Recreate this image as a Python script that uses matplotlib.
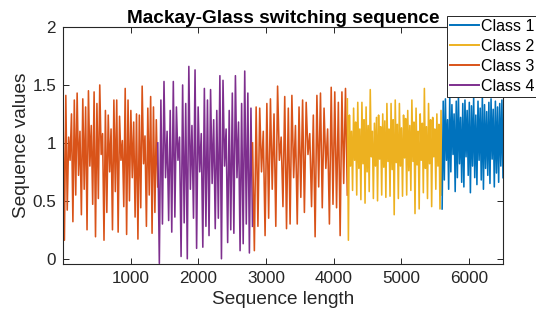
import matplotlib
matplotlib.use("Agg")
import matplotlib.pyplot as plt
import numpy as np

plt.rcParams['font.family'] = ['Liberation Sans', 'DejaVu Sans']

# segment boundaries (sample index) and class of each segment
seg_bounds = [(1, 1400), (1401, 2800), (2801, 4200), (4201, 5600), (5601, 6500)]
seg_class = [3, 4, 3, 2, 1]

# extremes, one list per segment
c3a = [1.28, 0.16, 1.41, 0.42, 1.05, 0.85, 1.25, 0.32, 1.37, 0.55, 1.43, 0.72, 1.10, 0.38,
       1.38, 0.60, 1.31, 0.25, 1.45, 0.80, 1.15, 0.47, 1.44, 0.19, 1.34, 0.52, 1.50, 0.90,
       1.08, 0.16, 1.28, 0.40, 1.24, 0.75, 1.12, 0.25, 1.37, 0.58, 1.37, 0.23, 1.23, 0.85,
       1.02, 0.45, 1.47, 0.21, 1.37, 0.50, 1.28, 0.70, 1.18, 0.36, 1.25, 0.17, 1.24, 0.44,
       1.49, 0.82, 1.06, 0.28, 1.30, 0.55, 1.40, 0.22, 1.31, 0.40, 1.20, 0.62]
c4 = [1.00, -0.04, 1.37, 0.30, 1.53, 0.70, 1.10, 0.33, 1.28, 0.23, 1.53, 0.36, 1.31, 0.85,
      1.05, 0.02, 1.50, 0.31, 1.34, 0.00, 1.66, 0.60, 1.15, 0.35, 1.63, 0.09, 1.31, 0.75,
      1.08, 0.10, 1.47, 0.28, 1.37, 0.20, 1.46, 0.65, 1.20, 0.26, 1.28, 0.35, 1.58, 0.00,
      1.54, 0.80, 1.12, 0.14, 1.28, 0.25, 1.43, 0.22, 1.58, 0.70, 1.18, 0.07, 1.34, 0.13,
      1.62, 0.30, 1.43, 0.05, 1.30, 0.28]
c3b = [1.00, 0.07, 1.31, 0.28, 1.30, 0.75, 1.10, 0.20, 1.34, 0.35, 1.38, 0.60, 1.25, 0.28,
       1.49, 0.85, 1.05, 0.45, 1.40, 0.26, 1.30, 0.30, 1.41, 0.70, 1.15, 0.30, 1.31, 0.53,
       1.37, 0.40, 1.35, 0.90, 1.08, 0.45, 1.24, 0.19, 1.41, 0.62, 1.43, 0.44, 1.30, 0.78,
       1.12, 0.30, 1.48, 0.47, 1.44, 0.44, 1.35, 0.20, 1.44, 0.65, 1.47, 0.55]
c2 = [1.38, 0.16, 1.24, 0.80, 1.10, 0.59, 1.30, 0.85, 1.18, 0.55, 1.35, 0.78, 1.12, 0.51,
      1.35, 0.82, 1.20, 0.48, 1.31, 0.75, 1.15, 0.58, 1.46, 0.88, 1.10, 0.52, 1.17, 0.80,
      1.22, 0.50, 1.24, 0.86, 1.14, 0.55, 1.25, 0.79, 1.19, 0.53, 1.34, 0.84, 1.12, 0.54,
      1.34, 0.77, 1.20, 0.38, 1.37, 0.83, 1.16, 0.52, 1.34, 0.80, 1.13, 0.54, 1.24, 0.87,
      1.21, 0.55, 1.28, 0.76, 1.15, 0.59, 1.37, 0.84, 1.18, 0.39, 1.30, 0.81, 1.10, 0.43,
      1.25, 0.85, 1.17, 0.57, 1.47, 0.78, 1.14, 0.52, 1.34, 0.82, 1.20, 0.45, 1.22, 0.88,
      1.12, 0.60, 1.25, 0.80, 1.16, 0.43, 1.28, 0.55]
c1 = [0.43, 1.36, 0.68, 1.38, 0.85, 1.20, 0.60, 1.40, 0.75, 1.33, 0.90, 1.25, 0.58, 1.36,
      0.70, 1.41, 0.82, 1.22, 0.66, 1.34, 0.62, 1.37, 0.88, 1.28, 0.72, 1.35, 0.57, 1.32,
      0.80, 1.39, 0.70, 1.24, 0.64, 1.36, 0.85, 1.30, 0.68, 1.40, 0.60, 1.33, 0.78, 1.27,
      0.72, 1.35, 0.65, 1.38, 0.86, 1.29, 0.62, 1.36, 0.74, 1.31, 0.66, 1.34, 0.80, 1.37, 0.70]
seg_values = [c3a, c4, c3b, c2, c1]

class_colors = {1: '#0072BD', 2: '#EDB120', 3: '#D95319', 4: '#7E2F8E'}
ytick_vals = [0, 0.5, 1, 1.5, 2]
ytick_labels = ['0', '0.5', '1', '1.5', '2']
xtick_vals = [1000, 2000, 3000, 4000, 5000, 6000]

fig = plt.figure(figsize=(5.36, 3.17), dpi=100)
ax = fig.add_axes([63 / 536, 1 - 264 / 317, (503 - 63) / 536, (264 - 27) / 317])

handles = {}
for (x0, x1), cls, vals in zip(seg_bounds, seg_class, seg_values):
    xs = np.linspace(x0, x1, len(vals))
    ln, = ax.plot(xs, vals, color=class_colors[cls], lw=1.15)
    handles.setdefault(cls, ln)

ax.set_xlim(1, 6500)
ax.set_ylim(-0.045, 2)
ax.set_xticks(xtick_vals)
ax.set_yticks(ytick_vals)
ax.set_yticklabels(ytick_labels)

dark = '#262626'
for s in ax.spines.values():
    s.set_color(dark)
    s.set_linewidth(0.8)
ax.tick_params(direction='in', top=True, right=True, length=4, width=0.7,
               colors=dark, labelsize=12.3, labelcolor=dark, pad=5)

ax.set_title('Mackay-Glass switching sequence', fontsize=13.7, fontweight='bold', pad=3)
ax.set_xlabel('Sequence length', fontsize=13.7, color=dark, labelpad=4)
ax.set_ylabel('Sequence values', fontsize=13.7, color=dark, labelpad=2)

leg = fig.legend([handles[k] for k in [1, 2, 3, 4]],
                 ['Class 1', 'Class 2', 'Class 3', 'Class 4'],
                 loc='upper left', bbox_to_anchor=(447 / 536, 1 - 15.5 / 317),
                 fontsize=11.5, frameon=True, fancybox=False, framealpha=1,
                 edgecolor=dark, handlelength=1.8, handletextpad=0.15,
                 labelspacing=0.32, borderpad=0.2, borderaxespad=0)
leg.get_frame().set_linewidth(0.7)
for h in leg.get_lines():
    h.set_linewidth(1.4)

fig.savefig('out.png', dpi=100)
